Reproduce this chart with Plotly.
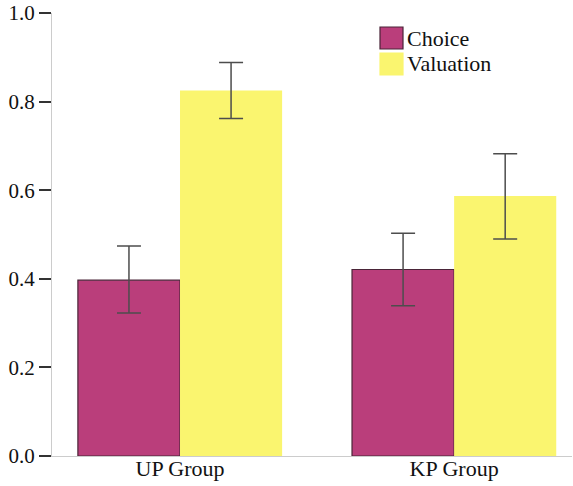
import plotly.graph_objects as go

categories = ["UP Group", "KP Group"]
choice_vals = [0.397, 0.421]
choice_hi = [0.474, 0.503]
choice_lo = [0.323, 0.339]
valuation_vals = [0.825, 0.587]
valuation_hi = [0.888, 0.682]
valuation_lo = [0.762, 0.490]
series_names = ["Choice", "Valuation"]
y_ticks = [0.0, 0.2, 0.4, 0.6, 0.8, 1.0]

choice_color = "#BA3E7B"
valuation_color = "#FAF56F"
err_color = "#4d4d4d"
font_fam = "Liberation Serif, Times New Roman, serif"

def err(vals, hi, lo):
    return dict(type="data", symmetric=False,
                array=[h - v for h, v in zip(hi, vals)],
                arrayminus=[v - l for v, l in zip(vals, lo)],
                color=err_color, thickness=1.5, width=12)

fig = go.Figure()
fig.add_trace(go.Bar(x=categories, y=choice_vals, name=series_names[0],
                     marker=dict(color=choice_color, line=dict(color="#4a2438", width=1.2)),
                     error_y=err(choice_vals, choice_hi, choice_lo), showlegend=False))
fig.add_trace(go.Bar(x=categories, y=valuation_vals, name=series_names[1],
                     marker=dict(color=valuation_color, line=dict(width=0)),
                     error_y=err(valuation_vals, valuation_hi, valuation_lo), showlegend=False))

# plot area spans x 52..572, y 13..456
W, H = 520, 443
def px(x): return (x - 52) / W
def py(y): return (456 - y) / H
legend_items = [(series_names[0], choice_color, "#4a2438", 27, 49),
                (series_names[1], valuation_color, valuation_color, 53, 75)]
shapes, annots = [], []
for name, col, lc, y0, y1 in legend_items:
    shapes.append(dict(type="rect", xref="paper", yref="paper",
                       x0=px(380), x1=px(403), y0=py(y1), y1=py(y0),
                       fillcolor=col, line=dict(color=lc, width=1.2)))
    annots.append(dict(xref="paper", yref="paper", x=px(405), y=py((y0 + y1) / 2),
                       text=name, showarrow=False, xanchor="left", yanchor="middle",
                       font=dict(family=font_fam, size=22, color="#111")))

fig.update_layout(
    width=573, height=486,
    margin=dict(l=52, r=1, t=13, b=30),
    paper_bgcolor="white", plot_bgcolor="white",
    barmode="group", bargap=0.255, bargroupgap=0,
    font=dict(family=font_fam, size=20, color="#111"),
    shapes=shapes, annotations=annots,
    xaxis=dict(range=[-0.467, 1.43], showline=True, linecolor="#cccccc", linewidth=1,
               ticks="", showgrid=False, automargin=False, ticklabelstandoff=-7,
               tickfont=dict(size=22, color="#111")),
    yaxis=dict(range=[0, 1.0], tickvals=y_ticks, ticktext=[f"{v:.1f}" for v in y_ticks],
               showline=True, linecolor="#cccccc", linewidth=1, showgrid=False, zeroline=False,
               ticks="outside", ticklen=12, tickwidth=1.5, tickcolor="#333", automargin=False,
               ticklabelstandoff=0, ticklabeloverflow="allow",
               tickfont=dict(size=21, color="#111")),
)
fig.write_html("out.html", config={"displayModeBar": False},
               post_script="document.body.style.margin='0';")
